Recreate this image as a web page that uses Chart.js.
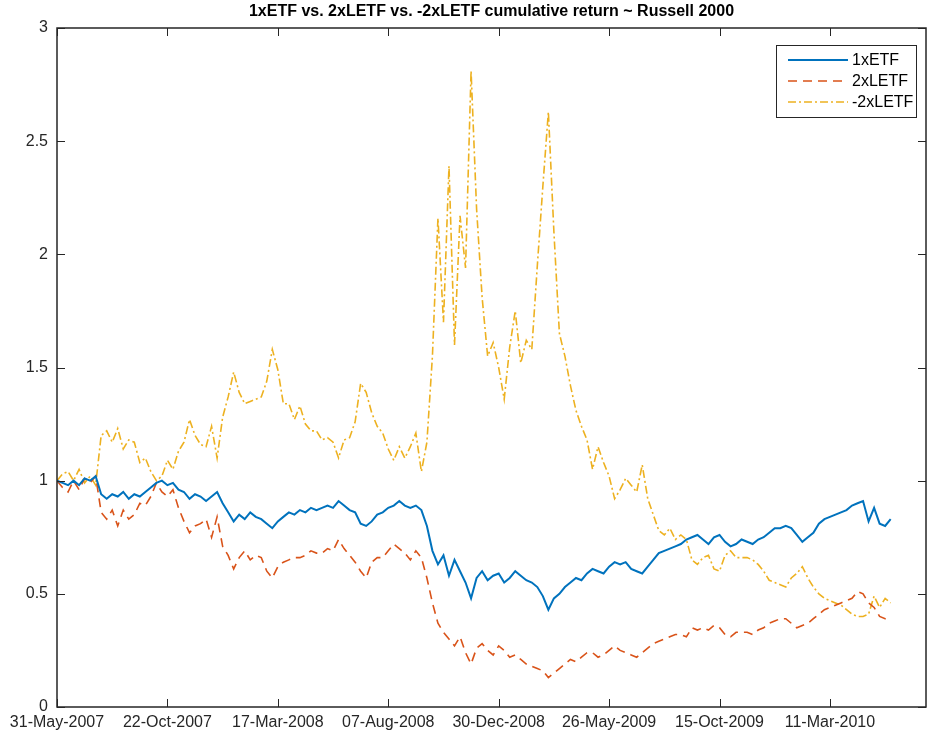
<!DOCTYPE html>
<html>
<head>
<meta charset="utf-8">
<script src="https://cdn.jsdelivr.net/npm/chart.js@4.4.1/dist/chart.umd.min.js"></script>
<style>
html,body{margin:0;padding:0;background:#fff;}
canvas{display:block;}
</style>
</head>
<body>
<canvas id="grafik" width="927" height="738"></canvas>
<script>
/* trading-day axis, one value every 5 trading days */
const dayStep=5;
const tickDays=[0,100,200,300,400,500,600,700];
const tickLabels=["31-May-2007","22-Oct-2007","17-Mar-2008","07-Aug-2008","30-Dec-2008","26-May-2009","15-Oct-2009","11-Mar-2010"];
const yTicks=[0,0.5,1,1.5,2,2.5,3];
const seriesNames=["1xETF","2xLETF","-2xLETF"];

const etf1=[
1.00,0.99,0.98,1.00,0.98,1.01,1.00,1.02,0.94,0.92,
0.94,0.93,0.95,0.92,0.94,0.93,0.95,0.97,0.99,1.00,
0.98,0.99,0.96,0.95,0.92,0.94,0.93,0.91,0.93,0.95,
0.90,0.86,0.82,0.85,0.83,0.86,0.84,0.83,0.81,0.79,
0.82,0.84,0.86,0.85,0.87,0.86,0.88,0.87,0.88,0.89,
0.88,0.91,0.89,0.87,0.86,0.81,0.80,0.82,0.85,0.86,
0.88,0.89,0.91,0.89,0.88,0.89,0.87,0.80,0.69,0.63,
0.67,0.58,0.65,0.60,0.55,0.48,0.57,0.60,0.56,0.58,
0.59,0.55,0.57,0.60,0.58,0.56,0.55,0.53,0.49,0.43,
0.48,0.50,0.53,0.55,0.57,0.56,0.59,0.61,0.60,0.59,
0.62,0.64,0.63,0.64,0.61,0.60,0.59,0.62,0.65,0.68,
0.69,0.70,0.71,0.72,0.74,0.75,0.76,0.74,0.72,0.75,
0.76,0.73,0.71,0.72,0.74,0.73,0.72,0.74,0.75,0.77,
0.79,0.79,0.80,0.79,0.76,0.73,0.75,0.77,0.81,0.83,
0.84,0.85,0.86,0.87,0.89,0.90,0.91,0.82,0.88,0.81,
0.80,0.83
];

const letf2=[
1.00,0.97,0.95,1.00,0.96,1.01,0.99,1.02,0.86,0.83,
0.87,0.80,0.87,0.83,0.85,0.90,0.89,0.93,0.99,0.95,
0.93,0.96,0.88,0.82,0.77,0.80,0.81,0.83,0.75,0.84,
0.71,0.67,0.61,0.66,0.69,0.65,0.67,0.66,0.60,0.57,
0.62,0.64,0.65,0.66,0.66,0.67,0.69,0.68,0.68,0.70,
0.69,0.74,0.70,0.67,0.64,0.60,0.57,0.64,0.66,0.66,
0.69,0.72,0.70,0.68,0.65,0.69,0.66,0.57,0.46,0.37,
0.33,0.30,0.27,0.31,0.24,0.19,0.26,0.28,0.25,0.23,
0.27,0.25,0.22,0.23,0.21,0.19,0.18,0.17,0.16,0.13,
0.15,0.17,0.19,0.21,0.20,0.22,0.24,0.24,0.22,0.23,
0.25,0.27,0.25,0.24,0.23,0.22,0.24,0.26,0.28,0.29,
0.30,0.31,0.32,0.32,0.31,0.35,0.34,0.35,0.34,0.36,
0.35,0.32,0.31,0.33,0.33,0.33,0.32,0.34,0.35,0.37,
0.38,0.39,0.39,0.37,0.35,0.36,0.37,0.39,0.41,0.43,
0.44,0.45,0.46,0.47,0.48,0.51,0.50,0.46,0.44,0.40,
0.39,0.39
];

const inv2=[
1.00,1.03,1.04,1.00,1.05,0.99,1.02,0.98,1.20,1.22,
1.17,1.23,1.14,1.18,1.17,1.08,1.10,1.04,1.00,1.02,
1.09,1.05,1.13,1.17,1.27,1.20,1.16,1.15,1.24,1.10,
1.28,1.37,1.48,1.39,1.34,1.35,1.36,1.37,1.44,1.58,
1.49,1.34,1.34,1.27,1.33,1.25,1.22,1.22,1.18,1.19,
1.17,1.10,1.18,1.19,1.26,1.43,1.39,1.30,1.24,1.21,
1.14,1.09,1.15,1.10,1.15,1.21,1.04,1.17,1.55,2.16,
1.70,2.39,1.60,2.17,1.94,2.81,2.20,1.81,1.55,1.61,
1.50,1.36,1.59,1.75,1.52,1.62,1.58,1.95,2.30,2.63,
2.10,1.65,1.55,1.42,1.31,1.24,1.18,1.05,1.15,1.08,
1.02,0.92,0.96,1.01,0.98,0.95,1.07,0.92,0.85,0.78,
0.76,0.79,0.74,0.76,0.74,0.65,0.63,0.66,0.67,0.61,
0.60,0.67,0.69,0.66,0.66,0.66,0.65,0.63,0.60,0.56,
0.55,0.54,0.53,0.57,0.59,0.62,0.57,0.53,0.50,0.48,
0.47,0.46,0.45,0.43,0.41,0.40,0.40,0.41,0.49,0.44,
0.48,0.46
];

const toPoints=function(arr){
return arr.map(function(v,k){return {x:k*dayStep,y:v};});
};

const axisColor="#262626";
const fontName="'Liberation Sans', Arial, Helvetica, sans-serif";

/* box, inward ticks and legend like matlab */
const matlabFrame={
id:"matlabFrame",
afterDatasetsDraw:function(chart){
const c=chart.ctx;
const a=chart.chartArea;
const xs=chart.scales.x;
const ys=chart.scales.y;
c.save();
c.strokeStyle=axisColor;
c.lineWidth=1.5;
c.strokeRect(a.left,a.top,a.right-a.left,a.bottom-a.top);
c.lineWidth=1;
c.beginPath();
xs.ticks.forEach(function(t){
const px=Math.round(xs.getPixelForValue(t.value))+0.5;
c.moveTo(px,a.bottom);c.lineTo(px,a.bottom-8);
c.moveTo(px,a.top);c.lineTo(px,a.top+8);
});
ys.ticks.forEach(function(t){
const py=Math.round(ys.getPixelForValue(t.value))+0.5;
c.moveTo(a.left,py);c.lineTo(a.left+8,py);
c.moveTo(a.right,py);c.lineTo(a.right-8,py);
});
c.stroke();

/* legend */
const bw=140,bh=72;
const bx=a.right-10-bw,by=a.top+17;
c.fillStyle="#fff";
c.fillRect(bx,by,bw,bh);
c.strokeStyle=axisColor;
c.lineWidth=1;
c.strokeRect(bx+0.5,by+0.5,bw,bh);
c.font="16px "+fontName;
c.textBaseline="middle";
chart.data.datasets.forEach(function(ds,k){
const ly=by+15+k*21;
c.strokeStyle=ds.borderColor;
c.lineWidth=ds.borderWidth;
c.setLineDash(ds.borderDash||[]);
c.beginPath();
c.moveTo(bx+12,ly);c.lineTo(bx+72,ly);
c.stroke();
c.setLineDash([]);
c.fillStyle="#000";
c.fillText(ds.label,bx+76,ly+1);
});
c.restore();
}
};

new Chart(document.getElementById("grafik"),{
type:"line",
data:{
datasets:[{
label:seriesNames[0],
data:toPoints(etf1),
borderColor:"#0072BD",
borderWidth:2,
pointRadius:0,
tension:0
},{
label:seriesNames[1],
data:toPoints(letf2),
borderColor:"#D95319",
borderWidth:1.6,
borderDash:[9,6],
pointRadius:0,
tension:0
},{
label:seriesNames[2],
data:toPoints(inv2),
borderColor:"#EDB120",
borderWidth:1.6,
borderDash:[8,3,2,3],
pointRadius:0,
tension:0
}]
},
options:{
responsive:false,
animation:false,
devicePixelRatio:1,
layout:{padding:{left:0,right:1,top:0,bottom:0}},
plugins:{
legend:{display:false},
tooltip:{enabled:false},
title:{
display:true,
fullSize:false,
text:"1xETF vs. 2xLETF vs. -2xLETF cumulative return ~ Russell 2000",
color:"#000",
font:{family:fontName,size:16,weight:"bold"},
padding:{top:2,bottom:6.8}
}
},
scales:{
x:{
type:"linear",
min:0,
max:787,
afterBuildTicks:function(scale){
scale.ticks=tickDays.map(function(v){return {value:v};});
},
afterFit:function(scale){scale.height=31;},
grid:{display:false,drawTicks:false},
border:{display:false},
ticks:{
autoSkip:false,
maxRotation:0,
padding:6,
color:axisColor,
font:{family:fontName,size:16},
callback:function(value){
const k=tickDays.indexOf(value);
return k>=0?tickLabels[k]:"";
}
}
},
y:{
min:0,
max:3,
afterBuildTicks:function(scale){
scale.ticks=yTicks.map(function(v){return {value:v};});
},
afterFit:function(scale){scale.width=57;},
grid:{display:false,drawTicks:false},
border:{display:false},
ticks:{
padding:9,
color:axisColor,
font:{family:fontName,size:16},
callback:function(value){return String(value);}
}
}
}
},
plugins:[matlabFrame]
});
</script>
</body>
</html>
